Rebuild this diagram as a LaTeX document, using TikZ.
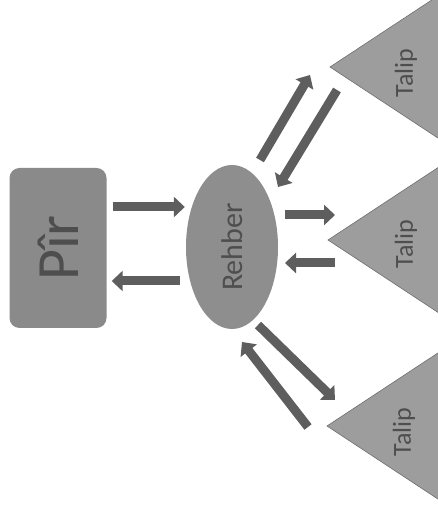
\documentclass[tikz,border=0pt]{standalone}
\usepackage{fontspec}
\setmainfont{Carlito}
\usetikzlibrary{shapes.geometric,arrows.meta}
\definecolor{kutu}{HTML}{8A8A8A}
\definecolor{elips}{HTML}{8E8E8E}
\definecolor{ucgen}{HTML}{9D9D9D}
\definecolor{okrenk}{HTML}{5E5E5E}
\definecolor{yazirenk}{HTML}{4E4E4E}

\begin{document}
\begin{tikzpicture}[x=1pt,y=1pt,
        ok/.style={line width=9pt,color=okrenk,-{Triangle[width=20pt,length=11pt]}},
        yazi/.style={rotate=90,text=yazirenk,inner sep=0pt}]
        \useasboundingbox (0,0) rectangle (438,513);
        % Pir
            \node[fill=kutu,rounded corners=10pt,minimum width=97pt,minimum height=160pt] (pir) at (58,265) {};
            \node[yazi,font=\fontsize{60}{60}\selectfont] (pirtxt) at (pir.center) {Pîr};
        % Rehber
            \node[ellipse,fill=elips,minimum width=92pt,minimum height=164pt,inner sep=0pt] (rehber) at (232,266) {};
            \node[yazi,font=\fontsize{30}{30}\selectfont] (rehbertxt) at (rehber.center) {Rehber};
        % Talip ucgenleri (tepe noktalari)
            \coordinate (t1) at (330,446);
            \coordinate (t2) at (328,273);
            \coordinate (t3) at (327,87);
            \foreach \t in {t1,t2,t3}{
                \fill[ucgen] (\t) -- ++(120,79) -- ++(0,-158) -- cycle;
                \draw[ucgen!70!black,line width=0.6pt] ([shift={(120,79)}]\t) -- (\t) -- ++(120,-79);
            }
            \node[yazi,font=\fontsize{26}{26}\selectfont] (talip1) at (406,440) {Talip};
            \node[yazi,font=\fontsize{26}{26}\selectfont] (talip2) at (406,269) {Talip};
        \node[yazi,font=\fontsize{26}{26}\selectfont] (talip3) at (404,81) {Talip};
        % Pir <-> Rehber
            \draw[ok] ([shift={(6,41)}]pir.east) -- ([shift={(-1,40)}]rehber.west);
            \draw[ok] ([shift={(-6,-34)}]rehber.west) -- ([shift={(5,-33)}]pir.east);
        % Rehber <-> Talip (ust)
            \draw[ok] ([shift={(28,87)}]rehber.center) -- ([shift={(-20,-8)}]t1);
            \draw[ok] ([shift={(7,-23)}]t1) -- ([shift={(46,60)}]rehber.center);
        % Rehber <-> Talip (orta)
            \draw[ok] ([shift={(53,32)}]rehber.center) -- ([shift={(7,25)}]t2);
            \draw[ok] ([shift={(7,-23)}]t2) -- ([shift={(53,-16)}]rehber.center);
        % Rehber <-> Talip (alt)
            \draw[ok] ([shift={(26,-78)}]rehber.center) -- ([shift={(8,26)}]t3);
            \draw[ok] ([shift={(-19,-1)}]t3) -- ([shift={(10,-95)}]rehber.center);
\end{tikzpicture}
\end{document}
